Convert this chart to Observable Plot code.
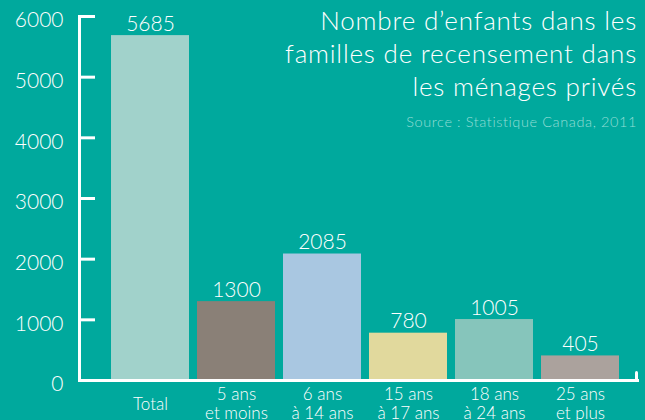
<!DOCTYPE html>
<html>
<head>
<meta charset="utf-8">
<script src="https://cdn.jsdelivr.net/npm/d3@7"></script>
<script src="https://cdn.jsdelivr.net/npm/@observablehq/plot@0.6"></script>
<style>
  html, body { margin: 0; padding: 0; background: #00a99d; }
  #wrap { position: relative; width: 645px; height: 420px; background: #00a99d; overflow: hidden; font-family: Lato, "Open Sans", sans-serif; }
  #title { position: absolute; right: 8px; top: 4px; text-align: right; color: #ffffff; font-size: 26px; line-height: 33px; font-weight: 300; letter-spacing: 0.8px; white-space: nowrap; }
  #source { position: absolute; right: 8px; top: 113px; text-align: right; color: #95ddd5; font-size: 14.5px; font-weight: 300; letter-spacing: 0.6px; white-space: nowrap; }
</style>
</head>
<body>
<div id="wrap">
  <div id="chart"></div>
  <div id="title">Nombre d’enfants dans les<br>familles de recensement dans<br>les ménages privés</div>
  <div id="source">Source : Statistique Canada, 2011</div>
</div>
<script>
const categories = ["Total", "5 ans\net moins", "6 ans\nà 14 ans", "15 ans\nà 17 ans", "18 ans\nà 24 ans", "25 ans\net plus"];
const values = [5685, 1300, 2085, 780, 1005, 405];
const barColors = ["#a1d2cb", "#8a8077", "#a9c7e1", "#e1d99d", "#86c5bb", "#aba29d"];
const yTicks = [0, 1000, 2000, 3000, 4000, 5000, 6000];

const data = categories.map((c, i) => ({cat: c, value: values[i], color: barColors[i]}));

const lineShape = {draw(context, l) { context.moveTo(0, 0); context.lineTo(0, -l); }};

const chart = Plot.plot({
  width: 645,
  height: 420,
  marginTop: 16,
  marginBottom: 40,
  marginLeft: 79,
  marginRight: 8,
  insetLeft: 21,
  insetRight: 7,
  style: {background: "transparent", fontFamily: "Lato, 'Open Sans', sans-serif", color: "white"},
  x: {domain: categories, paddingInner: 0.09, paddingOuter: 0.1, axis: null},
  y: {domain: [0, 6000], axis: null},
  marks: [
    Plot.barY(data, {x: "cat", y: "value", fill: "color"}),
    Plot.text(data, {x: "cat", y: "value", text: d => String(d.value), lineAnchor: "bottom", dy: -5, fill: "white", fontSize: 21, fontWeight: 300}),
    Plot.text(data, {x: "cat", text: "cat", frameAnchor: "bottom", lineAnchor: "middle", dy: 23, lineHeight: 1.12, fill: "white", fontSize: 17, fontWeight: 300}),
    Plot.axisY({ticks: yTicks, label: null, tickSize: 0, tickPadding: 16, dy: 4, fontSize: 21, fontWeight: 300, fill: "white", tickFormat: d => String(d)}),
    Plot.axisY({ticks: yTicks, label: null, tickSize: -16, text: null, stroke: "white", strokeWidth: 3}),
    Plot.frame({anchor: "left", stroke: "white", strokeWidth: 3}),
    Plot.frame({anchor: "bottom", stroke: "white", strokeWidth: 3}),
    Plot.vector([0], {frameAnchor: "bottom-right", length: 8, rotate: 0, anchor: "start", shape: lineShape, stroke: "white", strokeWidth: 3, dx: -1})
  ]
});
document.getElementById("chart").appendChild(chart);
</script>
</body>
</html>
